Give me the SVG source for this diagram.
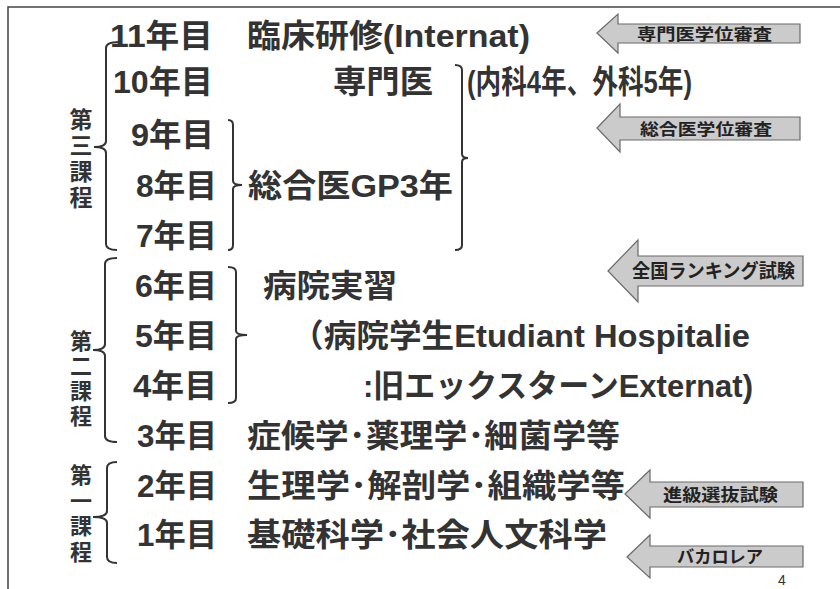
<svg xmlns="http://www.w3.org/2000/svg" width="840" height="589" viewBox="0 0 840 589">
<style>
.t{font-family:"Liberation Sans","Noto Sans CJK JP",sans-serif;font-weight:bold;font-size:32px;fill:#333}
.v{font-family:"Noto Sans CJK JP",sans-serif;font-weight:bold;fill:#333;writing-mode:vertical-rl}
.a{font-family:"Noto Sans CJK JP",sans-serif;font-weight:bold;fill:#222}
.br{fill:none;stroke:#333;stroke-width:2}
.ar{fill:#cbcbcb;stroke:#6a6a6a;stroke-width:1.2}
</style>
<rect width="840" height="589" fill="#fff"/>
<path d="M8,589 L8,7 L840,7" fill="none" stroke="#444" stroke-width="1.5"/>

<g id="connectors">
<path class="br" d="M119,42 Q106,42 106,48 L106,141 Q106,147 94,147 Q106,147 106,153 L106,244 Q106,250 117,250"/>
<path class="br" d="M117,258 Q105,258 105,264 L105,344 Q105,350 93,350 Q105,350 105,356 L105,436 Q105,442 117,442"/>
<path class="br" d="M117,462 Q107,462 107,468 L107,511 Q107,517 93,517 Q107,517 107,523 L107,557 Q107,563 117,563"/>
<path class="br" d="M228,120 Q233,120 233,125 L233,181 Q233,185 242,185 Q233,185 233,189 L233,245 Q233,250 228,250"/>
<path class="br" d="M228,267 Q236,267 236,272 L236,331 Q236,335 247,335 Q236,335 236,339 L236,398 Q236,403 228,403"/>
<path class="br" d="M455,65 Q462,65 462,70 L462,154 Q462,158 468,158 Q462,158 462,162 L462,245 Q462,250 455,250"/>
</g>

<g id="label-stage3">
<text class="v" x="81" y="108" font-size="23" letter-spacing="3">第三課程</text>
</g>
<g id="label-stage2">
<text class="v" x="81" y="330" font-size="22" letter-spacing="3">第二課程</text>
</g>
<g id="label-stage1">
<text class="v" x="81" y="464" font-size="22" letter-spacing="3.5">第一課程</text>
</g>

<g id="year11">
<text class="t" x="110" y="47" textLength="103" lengthAdjust="spacingAndGlyphs">11年目</text>
<text class="t" x="247" y="47" textLength="283" lengthAdjust="spacingAndGlyphs">臨床研修(Internat)</text>
</g>
<g id="year10">
<text class="t" x="113" y="93" textLength="100" lengthAdjust="spacingAndGlyphs">10年目</text>
<text class="t" x="333" y="93" textLength="100" lengthAdjust="spacingAndGlyphs">専門医</text>
<text class="t" x="467" y="93" textLength="225" lengthAdjust="spacingAndGlyphs">(内科4年、外科5年)</text>
</g>
<g id="year9">
<text class="t" x="131" y="146" textLength="83" lengthAdjust="spacingAndGlyphs">9年目</text>
</g>
<g id="year8">
<text class="t" x="136" y="197" textLength="81" lengthAdjust="spacingAndGlyphs">8年目</text>
<text class="t" x="248" y="197" textLength="205" lengthAdjust="spacingAndGlyphs">総合医GP3年</text>
</g>
<g id="year7">
<text class="t" x="136" y="247" textLength="81" lengthAdjust="spacingAndGlyphs">7年目</text>
</g>
<g id="year6">
<text class="t" x="135" y="297" textLength="82" lengthAdjust="spacingAndGlyphs">6年目</text>
<text class="t" x="263" y="297" textLength="134" lengthAdjust="spacingAndGlyphs">病院実習</text>
</g>
<g id="year5">
<text class="t" x="135" y="347" textLength="82" lengthAdjust="spacingAndGlyphs">5年目</text>
<text class="t" x="291" y="347" textLength="459" lengthAdjust="spacingAndGlyphs">（病院学生Etudiant Hospitalie</text>
</g>
<g id="year4">
<text class="t" x="133" y="397" textLength="84" lengthAdjust="spacingAndGlyphs">4年目</text>
<text class="t" x="363" y="397" textLength="390" lengthAdjust="spacingAndGlyphs">:旧エックスターンExternat)</text>
</g>
<g id="year3">
<text class="t" x="137" y="447" textLength="80" lengthAdjust="spacingAndGlyphs">3年目</text>
<text class="t" x="247" y="447" textLength="373" lengthAdjust="spacingAndGlyphs">症候学･薬理学･細菌学等</text>
</g>
<g id="year2">
<text class="t" x="137" y="497" textLength="80" lengthAdjust="spacingAndGlyphs">2年目</text>
<text class="t" x="247" y="497" textLength="378" lengthAdjust="spacingAndGlyphs">生理学･解剖学･組織学等</text>
</g>
<g id="year1">
<text class="t" x="137" y="546" textLength="80" lengthAdjust="spacingAndGlyphs">1年目</text>
<text class="t" x="247" y="546" textLength="360" lengthAdjust="spacingAndGlyphs">基礎科学･社会人文科学</text>
</g>

<g id="arrow-senmon">
<polygon class="ar" points="597,33 618,14 618,24 800,24 800,43 618,43 618,53"/>
<text class="a" x="637" y="40" font-size="16" textLength="135" lengthAdjust="spacingAndGlyphs">専門医学位審査</text>
</g>
<g id="arrow-sougou">
<polygon class="ar" points="597,128 620,104 620,117 800,117 800,140 620,140 620,152"/>
<text class="a" x="640" y="135" font-size="16" textLength="132" lengthAdjust="spacingAndGlyphs">総合医学位審査</text>
</g>
<g id="arrow-ranking">
<polygon class="ar" points="608,271 638,240 638,256 803,256 803,286 638,286 638,302"/>
<text class="a" x="632" y="278" font-size="19" textLength="163" lengthAdjust="spacingAndGlyphs">全国ランキング試験</text>
</g>
<g id="arrow-shinkyu">
<polygon class="ar" points="625,494 650,470 650,482 803,482 803,507 650,507 650,518"/>
<text class="a" x="663" y="501" font-size="17" textLength="115" lengthAdjust="spacingAndGlyphs">進級選抜試験</text>
</g>
<g id="arrow-bac">
<polygon class="ar" points="627,557 650,535 650,546 803,546 803,567 650,567 650,578"/>
<text class="a" x="677" y="563" font-size="17" textLength="86" lengthAdjust="spacingAndGlyphs">バカロレア</text>
</g>

<text x="778" y="585" font-family="Liberation Sans, sans-serif" font-size="14" fill="#333">4</text>
</svg>
